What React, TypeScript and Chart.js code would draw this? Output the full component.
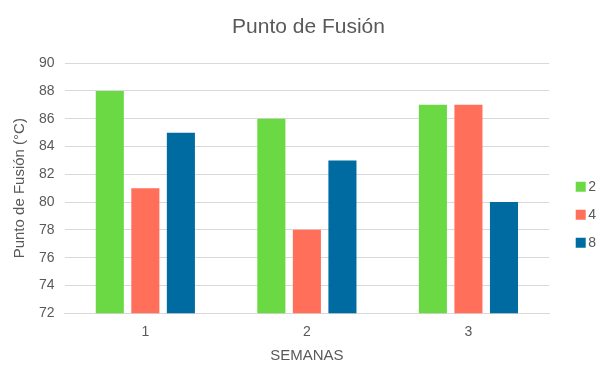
import React, { useEffect, useRef } from "react";
import { Chart, registerables } from "chart.js";

Chart.register(...registerables);

const categories = ["1", "2", "3"];
const seriesNames = ["2", "4", "8"];
const values2 = [88, 86, 87];
const values4 = [81, 78, 87];
const values8 = [85, 83, 80];
const colors = ["#6ad944", "#ff6f59", "#006ba1"];

export default function App() {
  const ref = useRef<HTMLCanvasElement>(null);
  useEffect(() => {
    if (!ref.current) return;
    const font = "Arial, 'Liberation Sans', sans-serif";
    const chart = new Chart(ref.current, {
      type: "bar",
      data: {
        labels: categories,
        datasets: [values2, values4, values8].map((v, i) => ({
          label: seriesNames[i],
          data: v,
          backgroundColor: colors[i],
          borderWidth: 0,
          categoryPercentage: 0.66,
          barPercentage: 0.79,
          yAxisID: "y",
        })),
      },
      options: {
        animation: false,
        responsive: false,
        maintainAspectRatio: false,
        layout: { padding: { left: 11, right: -9, top: 6, bottom: 0 } },
        plugins: {
          title: {
            display: true,
            text: "Punto de Fusión",
            color: "#595959",
            font: { family: font, size: 21, weight: "normal" },
            padding: { top: 9, bottom: 23 },
          },
          legend: {
            position: "right",
            title: { display: true, text: "", font: { size: 12 }, padding: { top: 44, bottom: 0 } },
            labels: {
              usePointStyle: true,
              pointStyle: "rect",
              boxWidth: 1,
              boxHeight: 10,
              color: "#595959",
              font: { family: font, size: 14 },
              padding: 14,
            },
          },
          tooltip: { enabled: false },
        },
        scales: {
          x: {
            grid: { display: false },
            border: { display: true, color: "#d9d9d9" },
            ticks: { color: "#595959", font: { family: font, size: 14 }, padding: 3 },
            title: {
              display: true,
              text: "SEMANAS",
              color: "#595959",
              font: { family: font, size: 15 },
              padding: { top: 3, bottom: 0 },
            },
          },
          y: {
            min: 72,
            max: 90,
            ticks: { stepSize: 2, color: "#595959", font: { family: font, size: 14 }, padding: 10 },
            grid: { color: "#d9d9d9", drawTicks: false },
            border: { display: false },
            title: {
              display: true,
              text: "Punto de Fusión (°C)",
              color: "#595959",
              font: { family: font, size: 15 },
              padding: { top: 0, bottom: 0 },
            },
          },
          yRight: {
            position: "right",
            display: true,
            grid: { display: false },
            border: { display: false },
            ticks: { display: false },
            afterFit: (scale: any) => {
              scale.width = 17;
            },
          },
        },
      },
    });
    return () => chart.destroy();
  }, []);
  return (
    <div style={{ position: "fixed", left: 0, top: 0, width: 597, height: 365, background: "#fff" }}>
      <canvas ref={ref} width={597} height={365} />
    </div>
  );
}
